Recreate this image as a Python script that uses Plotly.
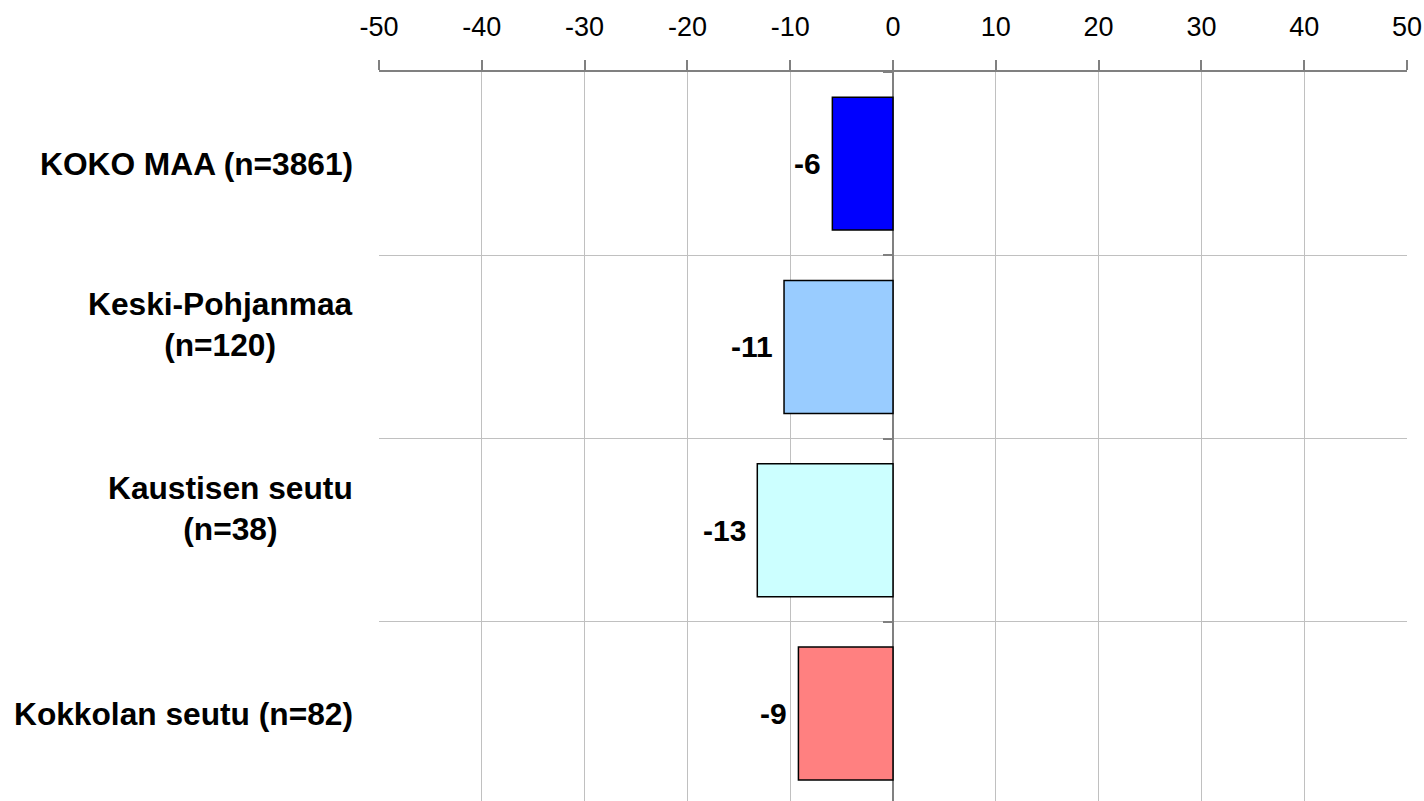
import plotly.graph_objects as go

categories = ["KOKO MAA (n=3861)", "Keski-Pohjanmaa<br>(n=120)", "Kaustisen seutu<br>(n=38)", "Kokkolan seutu (n=82)"]
values = [-5.9, -10.6, -13.2, -9.2]
colors = ["#0000FF", "#99CCFF", "#CCFFFF", "#FF8080"]
x_ticks = [-50, -40, -30, -20, -10, 0, 10, 20, 30, 40, 50]

FONT = "Liberation Sans, Arial, sans-serif"
cat_ids = [f"c{i}" for i in range(len(categories))]

fig = go.Figure()
fig.add_trace(go.Bar(
    x=values, y=cat_ids, orientation="h",
    marker=dict(color=colors, line=dict(color="#000000", width=1.5)),
    width=0.725, hoverinfo="skip", showlegend=False,
))
fig.add_trace(go.Scatter(
    x=values, y=cat_ids, yaxis="y2", mode="markers",
    marker=dict(opacity=0), hoverinfo="skip", showlegend=False,
))

for cid, lab in zip(cat_ids, categories):
    fig.add_annotation(
        x=0, xref="paper", y=cid, yref="y", text=f"<b>{lab}</b>",
        xanchor="right", yanchor="middle", align="center", xshift=-24,
        yshift=22 * lab.count("<br>"),
        showarrow=False, font=dict(family=FONT, size=31.7, color="#000000"),
    )
for cid, v in zip(cat_ids, values):
    fig.add_annotation(
        x=v, y=cid, text=f"<b>{round(v):d}</b>",
        xanchor="right", yanchor="middle", xshift=-9,
        showarrow=False, font=dict(family=FONT, size=30, color="#000000"),
    )

yrange = [3.477, -0.5]
fig.update_layout(
    width=1424, height=801,
    margin=dict(l=379, r=17, t=72, b=0),
    paper_bgcolor="#FFFFFF", plot_bgcolor="#FFFFFF",
    font=dict(family=FONT, color="#000000"),
    xaxis=dict(
        side="top", range=[-50, 50], tickvals=x_ticks,
        ticktext=[str(t) for t in x_ticks],
        showgrid=True, gridcolor="#C0C0C0", gridwidth=1,
        zeroline=True, zerolinecolor="#808080", zerolinewidth=1.5,
        showline=True, linecolor="#808080", linewidth=1.5,
        ticks="outside", ticklen=10, tickcolor="#808080", tickwidth=1.5,
        tickfont=dict(family=FONT, size=27, color="#000000"),
        ticklabelstandoff=13, fixedrange=True,
    ),
    yaxis=dict(
        type="category", categoryorder="array", categoryarray=cat_ids,
        range=yrange, showticklabels=False, ticks="",
        tickson="boundaries", showgrid=True, gridcolor="#C0C0C0", gridwidth=1,
        showline=False, zeroline=False, fixedrange=True,
    ),
    yaxis2=dict(
        type="category", categoryorder="array", categoryarray=cat_ids,
        range=yrange, overlaying="y", anchor="free", position=0.5, side="left",
        showticklabels=False, ticks="outside", ticklen=10, tickcolor="#808080",
        tickwidth=1.5, tickson="boundaries", showgrid=False, showline=False,
        zeroline=False, fixedrange=True,
    ),
)

fig.write_html(
    "out.html",
    config={"displayModeBar": False},
    post_script="document.body.style.margin='0';document.body.style.overflow='hidden';",
)
